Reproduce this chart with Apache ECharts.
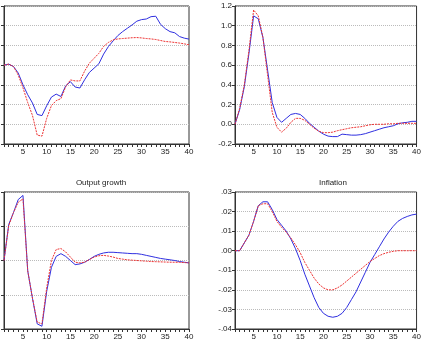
<!DOCTYPE html>
<html>
<head>
<meta charset="utf-8">
<script src="https://cdn.jsdelivr.net/npm/echarts@6/dist/echarts.min.js"></script>
<style>
  html, body { margin: 0; padding: 0; background: #fff; }
  #chart { width: 424px; height: 342px; }
</style>
</head>
<body>
<div id="chart"></div>
<script>
// horizon 1..40
const periods = []
for (let i = 1; i <= 40; i++) periods.push(String(i))

// top left panel (no y labels visible)
const tlBlue = [0, 0.05, -0.07, -0.4, -1.0, -1.5, -1.92, -2.5, -2.56, -2.06,
  -1.62, -1.47, -1.59, -1.05, -0.84, -1.11, -1.16, -0.74, -0.37, -0.15,
  0.07, 0.56, 0.94, 1.23, 1.5, 1.7, 1.87, 2.04, 2.23, 2.31,
  2.34, 2.46, 2.48, 2.07, 1.85, 1.7, 1.64, 1.45, 1.37, 1.32]
const tlRed = [0, 0.05, -0.07, -0.5, -1.15, -1.9, -2.55, -3.55, -3.6, -2.7,
  -2.05, -1.8, -1.7, -1.1, -0.75, -0.8, -0.8, -0.3, 0.1, 0.35,
  0.6, 0.95, 1.15, 1.28, 1.33, 1.35, 1.37, 1.39, 1.4, 1.38,
  1.35, 1.33, 1.3, 1.25, 1.2, 1.18, 1.15, 1.12, 1.08, 1.03]

// top right panel
const trBlue = [0, 0.15, 0.38, 0.72, 1.1, 1.07, 0.88, 0.55, 0.22, 0.07,
  0.02, 0.06, 0.1, 0.11, 0.1, 0.06, 0.01, -0.03, -0.07, -0.1,
  -0.12, -0.125, -0.125, -0.1, -0.105, -0.11, -0.11, -0.105, -0.095, -0.08,
  -0.065, -0.05, -0.035, -0.025, -0.015, 0.005, 0.015, 0.02, 0.03, 0.03]
const trRed = [0, 0.16, 0.4, 0.75, 1.16, 1.1, 0.88, 0.5, 0.12, -0.03,
  -0.08, -0.04, 0.02, 0.06, 0.06, 0.04, 0.0, -0.04, -0.07, -0.085,
  -0.085, -0.08, -0.065, -0.055, -0.045, -0.035, -0.03, -0.025, -0.015, -0.005,
  0, 0, 0, 0.005, 0.005, 0.01, 0.01, 0.01, 0.01, 0.01]

// output growth
const ogBlue = [0, 1.05, 1.4, 1.78, 1.9, -0.3, -1.1, -1.85, -1.92, -0.9,
  -0.2, 0.12, 0.2, 0.12, 0.0, -0.12, -0.1, -0.05, 0.03, 0.12,
  0.18, 0.22, 0.24, 0.24, 0.23, 0.22, 0.21, 0.2, 0.2, 0.18,
  0.15, 0.12, 0.09, 0.06, 0.04, 0.02, 0.0, -0.03, -0.05, -0.07]
const ogRed = [0, 1.02, 1.4, 1.7, 1.8, -0.3, -1.1, -1.8, -1.85, -0.8,
  0.0, 0.32, 0.35, 0.25, 0.1, -0.05, -0.07, -0.05, 0.03, 0.1,
  0.14, 0.15, 0.13, 0.1, 0.06, 0.04, 0.02, 0.01, 0.0, -0.01,
  -0.02, -0.03, -0.035, -0.04, -0.045, -0.05, -0.05, -0.055, -0.06, -0.07]

// inflation
const infBlue = [0, 0, .004, .008, .015, .023, .025, .025, .021, .016,
  .013, .010, .006, .001, -.005, -.012, -.018, -.024, -.029, -.032,
  -.0335, -.034, -.0335, -.032, -.029, -.025, -.021, -.016, -.011, -.006,
  -.002, .002, .006, .0095, .0125, .015, .0165, .0175, .0183, .0187]
const infRed = [0, 0, .004, .008, .015, .023, .024, .024, .020, .015,
  .012, .0095, .0065, .003, -.001, -.006, -.010, -.014, -.017, -.019,
  -.020, -.020, -.019, -.0175, -.0155, -.0135, -.0115, -.0095, -.0075, -.0055,
  -.004, -.0025, -.0015, -.0008, -.0003, 0, 0, 0, 0, 0]

const chart = echarts.init(document.getElementById('chart'))

const grids = [
  { left: 4, top: 6, width: 185, height: 138 },
  { left: 235, top: 6, width: 185, height: 138 },
  { left: 4, top: 192, width: 185, height: 137 },
  { left: 235, top: 192, width: 185, height: 137 }
]

const font = 'Liberation Sans, Arial, sans-serif'

function xAxis(idx) {
  return {
    type: 'category', gridIndex: idx, data: periods, boundaryGap: false,
    axisLine: { onZero: false, lineStyle: { color: '#333', width: 1 } },
    axisTick: { interval: 0, length: 3, lineStyle: { color: '#333' } },
    axisLabel: {
      interval: (i, v) => Number(v) % 5 === 0,
      color: '#222', fontSize: 8, fontFamily: font, margin: 4
    },
    splitLine: { show: false }
  }
}

function yAxis(idx, min, max, step, fmt, showLabel) {
  return {
    type: 'value', gridIndex: idx, min: min, max: max, interval: step,
    axisLine: { show: true, onZero: false, lineStyle: { color: '#333', width: 1 } },
    axisTick: { show: true, length: 3, lineStyle: { color: '#333' } },
    axisLabel: { show: showLabel, formatter: fmt, color: '#222', fontSize: 8, fontFamily: font, margin: 3 },
    splitLine: { show: true, lineStyle: { color: '#bbb', type: [1, 1], width: 1 } }
  }
}

function line(idx, data, red) {
  return {
    type: 'line', xAxisIndex: idx, yAxisIndex: idx, data: data,
    symbol: 'none', smooth: false, z: red ? 3 : 2,
    lineStyle: red ? { color: '#ee3333', width: 1, type: [2, 1] } : { color: '#2f2fe0', width: 1 }
  }
}

const fmt1 = v => v.toFixed(1)
const fmt2 = v => {
  const s = v.toFixed(2)
  return s.replace(/^(-?)0\./, '$1.')
}

chart.setOption({
  animation: false,
  title: [
    { text: 'Output growth', left: 96, top: 174, textAlign: 'center',
      textStyle: { fontSize: 8, fontWeight: 'normal', color: '#222', fontFamily: font } },
    { text: 'Inflation', left: 328, top: 174, textAlign: 'center',
      textStyle: { fontSize: 8, fontWeight: 'normal', color: '#222', fontFamily: font } }
  ],
  grid: grids.map(g => Object.assign({ show: true, borderColor: '#333', borderWidth: 1, backgroundColor: '#fff' }, g)),
  xAxis: [xAxis(0), xAxis(1), xAxis(2), xAxis(3)],
  yAxis: [
    yAxis(0, -4, 3, 1, null, false),
    yAxis(1, -0.2, 1.2, 0.2, fmt1, true),
    yAxis(2, -2, 2, 1, null, false),
    yAxis(3, -0.04, 0.03, 0.01, fmt2, true)
  ],
  series: [
    line(0, tlBlue, false), line(0, tlRed, true),
    line(1, trBlue, false), line(1, trRed, true),
    line(2, ogBlue, false), line(2, ogRed, true),
    line(3, infBlue, false), line(3, infRed, true)
  ]
})
</script>
</body>
</html>
